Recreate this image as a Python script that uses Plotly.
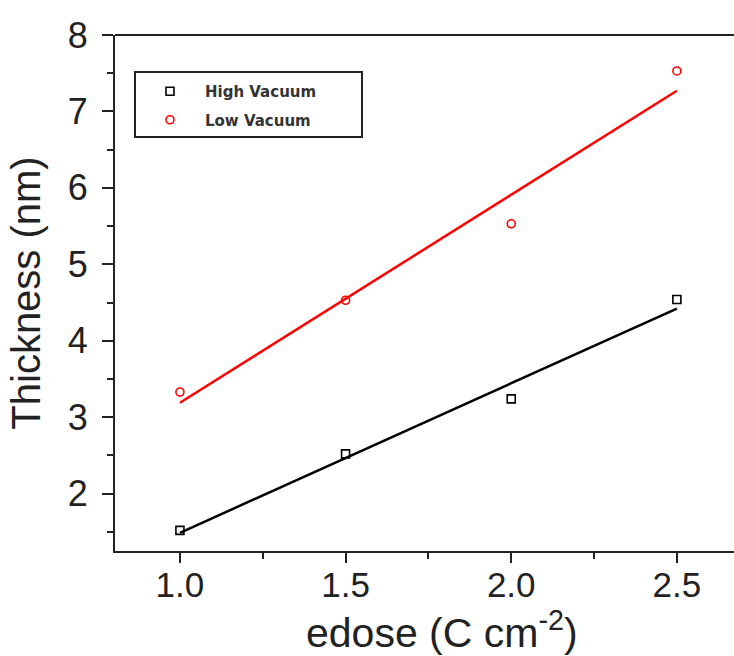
import numpy as np
import plotly.graph_objects as go

# Data
edose = [1.0, 1.5, 2.0, 2.5]
high_vacuum = [1.52, 2.52, 3.24, 4.54]
low_vacuum = [3.33, 4.53, 5.53, 7.53]
series_names = ["High Vacuum", "Low Vacuum"]
x_ticks = [1.0, 1.5, 2.0, 2.5]
y_ticks = [2, 3, 4, 5, 6, 7, 8]

FONT = "Liberation Sans, Arial, sans-serif"

W, H = 734, 656
ML, MR, MT, MB = 115, 0, 35, 105
PW, PH = W - ML - MR, H - MT - MB


def px_x(p):
    return (p - ML) / PW


def px_y(p):
    return 1 - (p - MT) / PH


fig = go.Figure()

xs = np.array(edose)
fit_x = np.array([min(edose), max(edose)])
for name, ys, color, sym, grp in [
    (series_names[0], high_vacuum, "black", "square-open", "g1"),
    (series_names[1], low_vacuum, "red", "circle-open", "g2"),
]:
    k, b = np.polyfit(xs, np.array(ys), 1)
    fig.add_trace(go.Scatter(
        x=fit_x, y=k * fit_x + b, mode="lines",
        line=dict(color=color, width=2.5), showlegend=False, hoverinfo="skip"))
    fig.add_trace(go.Scatter(
        x=edose, y=ys, mode="markers", name=name, legendgroup=grp,
        marker=dict(symbol=sym, color=color, size=8, line=dict(width=1.6, color=color))))

fig.update_layout(
    width=W, height=H,
    margin=dict(l=ML, r=MR, t=MT, b=MB, autoexpand=False),
    paper_bgcolor="white", plot_bgcolor="white",
    font=dict(family=FONT, color="#222"),
    showlegend=True,
    legend=dict(
        x=px_x(135), y=px_y(75), xanchor="left", yanchor="top",
        borderwidth=0, bgcolor="rgba(0,0,0,0)",
        font=dict(family="DejaVu Sans, sans-serif", size=15, color="#333", weight="bold"),
        tracegroupgap=6, itemwidth=60,
    ),
    shapes=[
        dict(type="line", xref="paper", yref="paper", x0=0, x1=1, y0=1, y1=1,
             line=dict(color="#222", width=2)),
        dict(type="rect", xref="paper", yref="paper", layer="below",
             x0=px_x(135), x1=px_x(362), y0=px_y(72), y1=px_y(137),
             line=dict(color="#222", width=2), fillcolor="white"),
    ],
    annotations=[dict(
        text="edose (C cm<sup>-2</sup>)", xref="paper", yref="paper",
        x=px_x(442), y=px_y(602), xanchor="center", yanchor="top", showarrow=False,
        font=dict(family=FONT, size=41, color="#222"))],
)

fig.update_xaxes(
    automargin=False,
    range=[0.804, 0.804 + PW / 331.3], tickmode="array", tickvals=x_ticks,
    ticktext=[f"{v:.1f}" for v in x_ticks],
    ticks="outside", ticklen=10, tickwidth=2, tickcolor="#222", ticklabelstandoff=-8,
    minor=dict(ticks="outside", ticklen=6, tickwidth=2, tickcolor="#222", dtick=0.25, tick0=1.0),
    showline=True, linecolor="#222", linewidth=2, showgrid=False, zeroline=False,
    tickfont=dict(family=FONT, size=35, color="#222"),
)
fig.update_yaxes(
    automargin=False,
    range=[1.25, 8], tickmode="array", tickvals=y_ticks,
    ticktext=[str(v) for v in y_ticks],
    ticks="outside", ticklen=11, tickwidth=2, tickcolor="#222", ticklabelstandoff=7,
    minor=dict(ticks="outside", ticklen=6, tickwidth=2, tickcolor="#222", dtick=0.5, tick0=1.5),
    showline=True, linecolor="#222", linewidth=2, showgrid=False, zeroline=False,
    tickfont=dict(family=FONT, size=36, color="#222"),
    title=dict(text="Thickness (nm)", font=dict(family=FONT, size=40, color="#222"), standoff=15),
)

fig.write_html("out.html", config={"displayModeBar": False},
               post_script="document.body.style.margin='0';")
